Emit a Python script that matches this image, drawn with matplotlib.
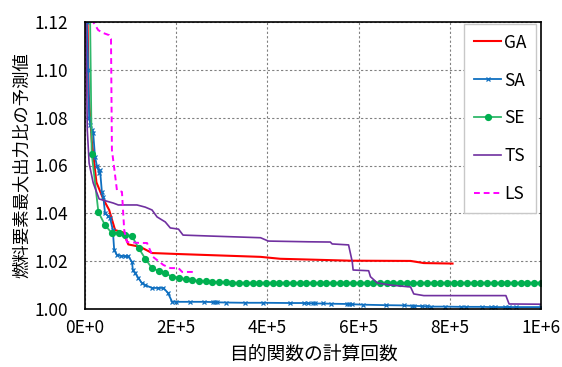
import numpy as np
import matplotlib.pyplot as plt

plt.rcParams['font.family'] = ['Noto Sans CJK JP', 'DejaVu Sans']

# GA
ga_x = [0, 4e3, 8e3, 15e3, 25e3, 40e3, 53e3, 66e3, 84e3, 95e3, 121e3, 147e3, 202e3,
        385e3, 428e3, 582e3, 714e3, 743e3, 806e3]
ga_y = [1.30, 1.14, 1.09, 1.07, 1.053, 1.046, 1.0414, 1.033, 1.032, 1.027, 1.026, 1.0234,
        1.023, 1.0218, 1.021, 1.0202, 1.0201, 1.0192, 1.019]

# SA
sa_x = [0, 4e3, 7e3, 9e3, 12e3, 15e3, 18e3, 22e3, 26e3, 31e3, 33e3, 37e3, 40e3, 44e3,
        50e3, 55e3, 61e3, 64e3, 70e3, 80e3, 88e3, 95e3, 103e3, 105e3, 110e3, 117e3,
        124e3, 132e3, 147e3, 160e3, 172e3, 182e3, 191e3, 200e3, 230e3, 260e3, 280e3,
        285e3, 290e3, 310e3, 350e3, 390e3, 450e3, 480e3, 490e3, 500e3, 505e3, 523e3,
        540e3, 575e3, 580e3, 585e3, 610e3, 660e3, 700e3, 718e3, 721e3, 740e3, 750e3,
        758e3, 790e3, 825e3, 835e3, 870e3, 890e3, 900e3, 920e3, 930e3, 945e3, 1e6]
sa_y = [1.30, 1.12, 1.10, 1.080, 1.077, 1.075, 1.0735, 1.0635, 1.060, 1.057, 1.058,
        1.049, 1.047, 1.040, 1.039, 1.038, 1.033, 1.0247, 1.0226, 1.0222, 1.0221, 1.022,
        1.0197, 1.0163, 1.015, 1.013, 1.011, 1.010, 1.0088, 1.0088, 1.0088, 1.0067, 1.003,
        1.003, 1.003, 1.003, 1.0029, 1.0028, 1.0028, 1.0027, 1.0026, 1.0026, 1.0025,
        1.0025, 1.0024, 1.0024, 1.0023, 1.0023, 1.0022, 1.0021, 1.0021, 1.002, 1.0018,
        1.0016, 1.0015, 1.0013, 1.0013, 1.0012, 1.0011, 1.001, 1.001, 1.0009, 1.0009,
        1.0009, 1.0008, 1.0008, 1.0008, 1.0008, 1.0008, 1.0008]

# SE (sampled every 14.7e3 evaluations)
se_step = 14.7e3
se_y = [1.30, 1.065, 1.0405, 1.035, 1.0318, 1.0318, 1.031, 1.0305, 1.0255, 1.021, 1.017,
        1.016, 1.015, 1.0134, 1.013, 1.0125, 1.012, 1.0118, 1.0115, 1.0113, 1.0112,
        1.0111, 1.011, 1.011, 1.011, 1.011, 1.011, 1.011, 1.011, 1.011, 1.011, 1.011,
        1.011, 1.011, 1.011, 1.011, 1.011, 1.011, 1.011, 1.011, 1.011, 1.011, 1.011,
        1.011, 1.011, 1.011, 1.011, 1.011, 1.011, 1.011, 1.011, 1.011, 1.011, 1.011,
        1.011, 1.011, 1.011, 1.011, 1.011, 1.011, 1.011, 1.011, 1.011, 1.011, 1.011,
        1.011, 1.011, 1.011, 1.011]
se_x = np.arange(len(se_y)) * se_step

# TS
ts_x = [0, 2e3, 5e3, 9e3, 18e3, 31e3, 40e3, 62e3, 73e3, 114e3, 132e3, 147e3, 158e3,
        176e3, 187e3, 205e3, 215e3, 275e3, 385e3, 402e3, 490e3, 538e3, 542e3, 578e3,
        586e3, 588e3, 622e3, 626e3, 641e3, 670e3, 714e3, 721e3, 743e3, 923e3, 930e3, 1e6]
ts_y = [1.30, 1.12, 1.075, 1.061, 1.0527, 1.046, 1.0455, 1.0443, 1.0435, 1.0435, 1.0426,
        1.0414, 1.0385, 1.0364, 1.0339, 1.0334, 1.0309, 1.0305, 1.0298, 1.0284, 1.0281,
        1.028, 1.0272, 1.0268, 1.0198, 1.0163, 1.016, 1.0135, 1.0109, 1.01, 1.0092,
        1.0063, 1.0056, 1.0056, 1.0021, 1.002]

# LS
ls_x = [5e3, 18e3, 29e3, 40e3, 53e3, 57e3, 59e3, 64e3, 70e3, 81e3, 86e3, 92e3, 121e3,
        136e3, 149e3, 172e3, 187e3, 205e3, 213e3, 237e3]
ls_y = [1.20, 1.12, 1.1166, 1.1154, 1.1145, 1.113, 1.0665, 1.059, 1.0497, 1.049, 1.033,
        1.028, 1.0276, 1.0276, 1.0218, 1.0184, 1.0171, 1.0171, 1.0155, 1.0155]

xticks = [0, 2e5, 4e5, 6e5, 8e5, 1e6]
xtick_labels = ['0E+0', '2E+5', '4E+5', '6E+5', '8E+5', '1E+6']
yticks = [1.00, 1.02, 1.04, 1.06, 1.08, 1.10, 1.12]

fig = plt.figure(figsize=(5.62, 3.67), dpi=100)
ax = fig.add_axes([85 / 562, 1 - 309 / 367, 456 / 562, 287 / 367])

ax.plot(ga_x, ga_y, color='#ff0000', lw=1.5, label='GA')
ax.plot(sa_x, sa_y, color='#0f6fc0', lw=1.3, marker='x', ms=3.5, mew=0.9, label='SA')
ax.plot(se_x, se_y, color='#2fb86a', lw=1.3, marker='o', ms=4.2, mfc='#00b050',
        mec='#00b050', label='SE')
ax.plot(ts_x, ts_y, color='#7030a0', lw=1.2, label='TS')
ax.plot(ls_x, ls_y, color='#ff00ff', lw=1.4, ls='--', dashes=(3, 2), label='LS')

ax.set_xlim(0, 1e6)
ax.set_ylim(1.00, 1.12)
ax.set_xticks(xticks)
ax.set_xticklabels(xtick_labels)
ax.set_yticks(yticks)
ax.set_yticklabels(['%.2f' % v for v in yticks])
ax.tick_params(length=0, labelsize=12.5, pad=7)
ax.tick_params(axis='y', pad=12)
ax.grid(True, color='#808080', ls=(0, (2, 2)), lw=0.8)
for s in ax.spines.values():
    s.set_color('black')
    s.set_linewidth(1.2)

ax.set_xlabel('目的関数の計算回数', fontsize=13.5, labelpad=5)
ax.set_ylabel('燃料要素最大出力比の予測値', fontsize=12.5, labelpad=3)

leg = ax.legend(loc='upper right', bbox_to_anchor=(536 / 562, 1 - 24 / 367),
                bbox_transform=fig.transFigure, borderaxespad=0, fontsize=12.5,
                labelspacing=1.15, handlelength=1.6, handletextpad=0.15,
                fancybox=False, framealpha=1, edgecolor='#c8c8c8',
                borderpad=0.55)
leg.get_frame().set_linewidth(1.0)

fig.savefig('out.png', dpi=100)
